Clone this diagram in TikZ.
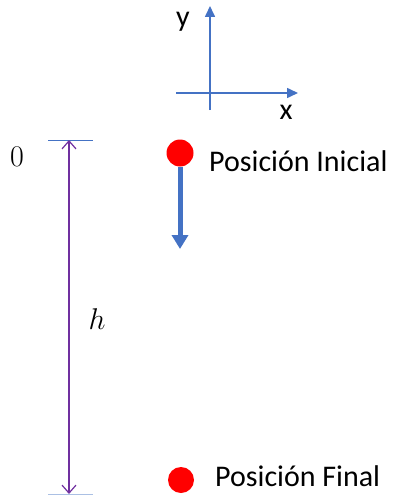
\documentclass[tikz,border=0pt]{standalone}
\usepackage{fix-cm}
\usepackage{fontspec}
\setsansfont{Carlito}
\usetikzlibrary{positioning, arrows.meta}
\definecolor{axisBlue}{HTML}{4472C4}
\definecolor{heightPurple}{HTML}{7030A0}
\definecolor{ballRed}{HTML}{FF0000}

\begin{document}
\begin{tikzpicture}[
  x={(1pt,0pt)}, y={(0pt,-1pt)},
  every node/.style={inner sep=0pt},
  ball/.style={circle, fill=ballRed, minimum size=27pt},
  axis/.style={axisBlue, line width=1.6pt, -{Triangle[length=11pt, width=10pt]}},
  tick/.style={axisBlue, line width=0.8pt},
  label/.style={font=\sffamily\fontsize{30}{34}\selectfont, anchor=west},
  axlbl/.style={font=\sffamily\fontsize{30}{34}\selectfont},
  mathlbl/.style={font=\fontsize{30}{34}\selectfont},
]
\useasboundingbox (0,0) rectangle (401,495);

% Axes
\coordinate (orig) at (210,93);
\draw[axis] (210,110) -- (210,6) coordinate (ytip);
\draw[axis] (176,93) -- (298,93) coordinate (xtip);
\node[axlbl] (ylbl) at (183,22) {y};
\node[axlbl] (xlbl) at (286,112) {x};

% Height marker
\coordinate (top) at (69,140);
\coordinate (bot) at (69,494);
\draw[tick] (48,140) -- (93,140);
\draw[tick, axisBlue!45] (48,494) -- (93,494);
\draw[heightPurple, line width=1.2pt,
  {Straight Barb[length=8pt, width=14pt]}-{Straight Barb[length=8pt, width=14pt]}]
  (top) -- (bot);
\node[mathlbl] (zero) at (17,157) {$0$};
\node[mathlbl] (hlbl) at (97,319) {$h$};

% Positions
\node[ball] (ini) at (180,153) {};
\node[label] (inilbl) at (209,161) {Posición Inicial};
\coordinate (fall) at (180,249);
\draw[axisBlue, line width=5pt, -{Triangle[length=14pt, width=16pt]}]
  (ini.south) -- (fall);

\node[ball, minimum size=26pt] (fin) at (181,480) {};
\node[label, anchor=base west] (finlbl) at (215,486) {Posición Final};

\end{tikzpicture}
\end{document}
